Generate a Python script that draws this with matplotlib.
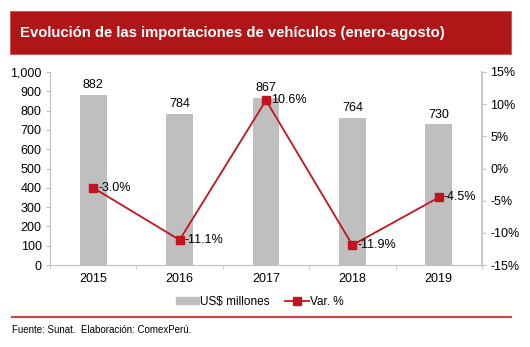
import matplotlib
matplotlib.use('Agg')
import matplotlib.pyplot as plt
from matplotlib.patches import Rectangle
from matplotlib.lines import Line2D

plt.rcParams['font.family'] = ['Liberation Sans', 'DejaVu Sans']

years = ['2015', '2016', '2017', '2018', '2019']
imports = [882, 784, 867, 764, 730]       # US$ millones
var_pct = [-3.0, -11.1, 10.6, -11.9, -4.5]  # Var. %

red = '#B01518'
line_red = '#C0141E'
grey_bar = '#BFBFBF'
axis_grey = '#BFBFBF'
fs = 9

fig = plt.figure(figsize=(5.3, 3.47), dpi=100)

# title banner
fig.patches.append(Rectangle((10 / 530, 1 - 54 / 347), 501 / 530, 43 / 347,
                             transform=fig.transFigure, facecolor=red,
                             edgecolor='#D05050', lw=0.6))
fig.text(20 / 530, 1 - 33 / 347, 'Evolución de las importaciones de vehículos (enero-agosto)',
         color='white', fontsize=10.7, fontweight='bold', va='center', ha='left')

ax1 = fig.add_axes([50 / 530, 1 - 265 / 347, 432 / 530, 193 / 347])
x = range(len(years))
ax1.bar(x, imports, width=0.31, color=grey_bar, label='US$ millones', zorder=1)
ax1.set_xlim(-0.5, 4.5)
ax1.set_ylim(0, 1000)
ax1.set_yticks(range(0, 1001, 100))
ax1.set_yticklabels(['{:,}'.format(v) for v in range(0, 1001, 100)])
ax1.set_xticks(list(x))
ax1.set_xticklabels(years)
ax1.set_xticks([i + 0.5 for i in range(-1, 5)], minor=True)
ax1.tick_params(axis='x', which='major', length=0, pad=6, labelsize=fs)
ax1.tick_params(axis='x', which='minor', length=3, color=axis_grey)
ax1.tick_params(axis='y', length=3, color=axis_grey, labelsize=fs, pad=3)
for s in ['top', 'right']:
    ax1.spines[s].set_visible(False)
for s in ['left', 'bottom']:
    ax1.spines[s].set_color(axis_grey)
for i, v in enumerate(imports):
    ax1.text(i, v + 18, str(v), ha='center', va='bottom', fontsize=fs)

ax2 = ax1.twinx()
ax2.plot(list(x), var_pct, color=line_red, lw=1.3, marker='s', markersize=5.5,
         label='Var. %', zorder=3)
ax2.set_ylim(-15, 15)
ax2.set_yticks(range(-15, 16, 5))
ax2.set_yticklabels(['{}%'.format(v) for v in range(-15, 16, 5)])
ax2.tick_params(axis='y', length=3, color=axis_grey, labelsize=fs, pad=3)
for s in ['top', 'left', 'bottom']:
    ax2.spines[s].set_visible(False)
ax2.spines['right'].set_color(axis_grey)
ax2.spines['right'].set_linewidth(1.2)
for i, v in enumerate(var_pct):
    ax2.text(i + 0.06, v, '{:.1f}%'.format(v), ha='left', va='center', fontsize=fs)

# legend
handles = [Rectangle((0, 0), 1, 1, color=grey_bar),
           Line2D([], [], color=line_red, lw=1.3, marker='s', markersize=5.5)]
fig.legend(handles, ['US$ millones', 'Var. %'], loc='center',
           bbox_to_anchor=(0.49, 1 - 302 / 347), ncol=2, frameon=False,
           fontsize=8.5, handlelength=2.0, handleheight=0.5,
           handletextpad=0.1, columnspacing=1.3)

# bottom rule and source
fig.add_artist(Line2D([12 / 530, 511 / 530], [1 - 317 / 347, 1 - 317 / 347],
                      transform=fig.transFigure, color='#D0424A', lw=1.5))
fig.text(12 / 530, 1 - 330 / 347, 'Fuente: Sunat.  Elaboración: ComexPerú.',
         fontsize=7, va='center', ha='left')

plt.savefig('out.png', dpi=100)
